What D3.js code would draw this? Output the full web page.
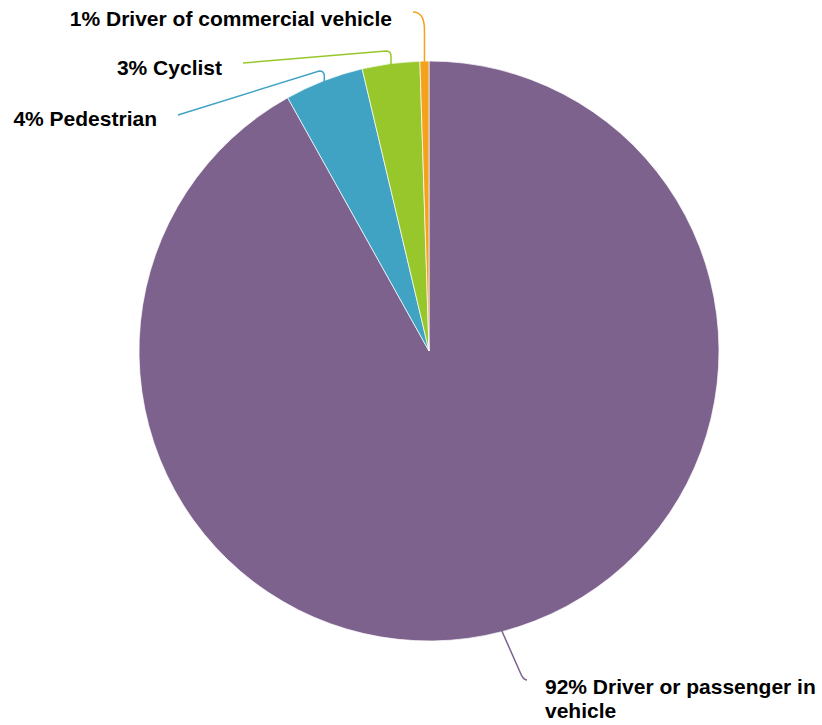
<!DOCTYPE html>
<html>
<head>
<meta charset="utf-8">
<script src="https://cdn.jsdelivr.net/npm/d3@7"></script>
<style>
  body { margin: 0; background: #fff; }
  text { font-family: "Liberation Sans", Arial, Helvetica, sans-serif; font-weight: bold; font-size: 21px; fill: #000; }
</style>
</head>
<body>
<div id="chart"></div>
<script>
var width = 822;
var height = 725;

// data, clockwise from 12 o'clock
var categories = ["Driver or passenger in vehicle", "Pedestrian", "Cyclist", "Driver of commercial vehicle"];
var values = [91.9, 4.4, 3.2, 0.5];
var shownPct = ["92%", "4%", "3%", "1%"];
var colours = ["#7e628e", "#41a3c4", "#97c72b", "#f4a21c"];

// label layout: leader bend + end point, text anchor
var labelLayout = [
    { bendX: 523, bendY: 680, endX: 527, endY: 680, tx: 545, ty: 694, anchor: "start", lines: ["92% Driver or passenger in", "vehicle"] },
    { bendX: null, bendY: 71, endX: 178, endY: 115, tx: 157, ty: 126, anchor: "end" },
    { bendX: null, bendY: 51, endX: 243, endY: 63, tx: 222, ty: 75, anchor: "end" },
    { bendX: null, bendY: 12, endX: 413, endY: 12, tx: 392, ty: 26, anchor: "end" }
];

var cx = 429, cy = 351, radius = 290;

var svg = d3.select("#chart").append("svg")
    .attr("width", width)
    .attr("height", height);

var g = svg.append("g").attr("transform", "translate(" + cx + "," + cy + ")");

var pie = d3.pie().sort(null).value(d => d.value);
var arc = d3.arc().innerRadius(0).outerRadius(radius);

var rows = categories.map((c, i) => ({ name: c, value: values[i], colour: colours[i], pct: shownPct[i], layout: labelLayout[i] }));
var arcs = pie(rows);

g.selectAll("path.slice")
    .data(arcs)
    .enter().append("path")
    .attr("class", "slice")
    .attr("d", arc)
    .attr("fill", d => d.data.colour)
    .attr("stroke", "#fff")
    .attr("stroke-width", 0.7);

// leader lines from slice middle on the rim
function leader(d) {
    var mid = (d.startAngle + d.endAngle) / 2;
    var sx = cx + Math.sin(mid) * (radius - 1);
    var sy = cy - Math.cos(mid) * (radius - 1);
    var L = d.data.layout;
    var p = d3.path();
    p.moveTo(sx, sy);
    if (L.bendX !== null) {
        // goes down and to the right, then hooks
        p.lineTo(L.bendX - 3, L.bendY - 8);
        p.quadraticCurveTo(L.bendX, L.bendY, L.endX, L.endY);
    } else if (sx - L.endX < 20) {
        // short hook straight into the label
        p.lineTo(sx, L.bendY + 18);
        p.quadraticCurveTo(sx, L.bendY, L.endX, L.endY);
    } else {
        p.lineTo(sx, L.bendY + 5);
        p.quadraticCurveTo(sx, L.bendY, sx - 5, L.bendY);
        p.lineTo(L.endX, L.endY);
    }
    return p.toString();
}

svg.selectAll("path.leader")
    .data(arcs)
    .enter().append("path")
    .attr("class", "leader")
    .attr("d", leader)
    .attr("fill", "none")
    .attr("stroke", d => d.data.colour)
    .attr("stroke-width", 1.5);

var labels = svg.selectAll("text.lbl")
    .data(arcs)
    .enter().append("text")
    .attr("class", "lbl")
    .attr("x", d => d.data.layout.tx)
    .attr("y", d => d.data.layout.ty)
    .attr("text-anchor", d => d.data.layout.anchor);

labels.each(function (d) {
    var lines = d.data.layout.lines || [d.data.pct + " " + d.data.name];
    var t = d3.select(this);
    lines.forEach((ln, i) => {
        t.append("tspan")
            .attr("x", d.data.layout.tx)
            .attr("dy", i === 0 ? 0 : 24)
            .text(ln);
    });
});
</script>
</body>
</html>
